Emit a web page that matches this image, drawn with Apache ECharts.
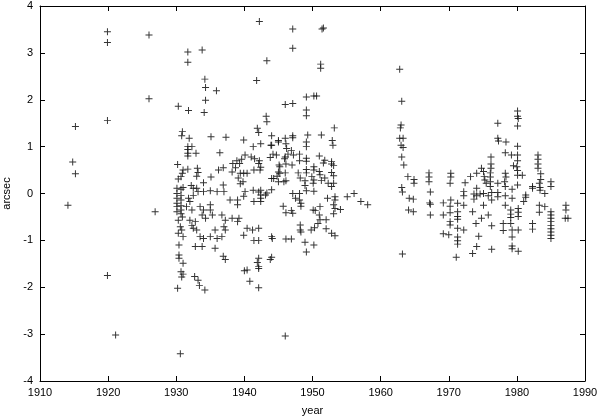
<!DOCTYPE html>
<html>
<head>
<meta charset="utf-8">
<script src="https://cdn.jsdelivr.net/npm/echarts@6/dist/echarts.min.js"></script>
<style>
 html,body{margin:0;padding:0;background:#fff;}
 #main{width:600px;height:418px;}
</style>
</head>
<body>
<div id="main"></div>
<script>
// points [year, arcsec], split by epoch
var early = [[1914.1,-0.25],[1914.8,0.67],[1915.2,0.42],[1915.2,1.43],[1919.9,3.45],[1919.9,3.22],[1919.9,1.56],[1919.9,-1.75],[1921.1,-3.02],[1926.0,3.38],[1926.0,2.02],[1926.9,-0.39]];

var mid = [[1930.3,1.86],[1930.9,1.32],[1930.8,1.23],[1930.2,0.62],[1930.9,0.43],[1930.7,0.36],[1930.3,0.31],[1931.0,0.5],[1931.0,0.13],
 [1930.1,0.11],[1930.1,0.0],[1930.1,-0.1],[1930.1,-0.21],[1930.1,-0.28],[1930.1,-0.39],
 [1930.7,0.09],[1930.7,-0.04],[1930.7,-0.14],[1930.7,-0.26],[1930.7,-0.35],[1930.7,-0.43],[1930.9,-0.5],
 [1930.3,-0.57],[1930.6,-0.71],[1930.8,-0.78],[1930.3,-0.85],[1931.0,-0.92],
 [1930.4,-1.1],[1930.4,-1.31],[1930.4,-1.38],[1931.0,-1.49],[1930.7,-1.67],[1931.0,-1.72],[1930.8,-1.78],[1930.2,-2.02],[1930.6,-3.42],
 [1931.8,1.77],[1931.7,3.02],[1931.7,2.8],[1931.9,1.18],[1931.7,1.0],[1931.7,0.94],[1931.7,0.86],[1931.7,0.8],[1931.7,0.52],[1932.3,1.0],[1932.9,0.86],
 [1932.2,0.17],[1933.1,0.54],[1933.0,0.37],[1933.2,0.45],
 [1931.8,-0.1],[1932.0,-0.17],[1931.5,-0.28],[1932.3,-0.35],[1932.5,0.11],[1932.5,-0.04],[1933.2,0.04],[1933.0,0.11],
 [1932.0,-0.57],[1932.3,-0.68],[1932.8,-0.6],[1932.5,-0.74],[1933.0,-0.78],
 [1933.5,-0.28],[1934.0,-0.35],[1933.8,-0.46],[1934.3,-0.53],[1935.0,-0.35],[1935.0,-0.24],[1935.3,-0.46],
 [1933.5,-0.92],[1934.0,-0.96],[1935.0,-0.92],[1932.8,-1.13],[1933.8,-1.13],
 [1932.7,-1.77],[1933.2,-1.85],[1933.4,-1.96],[1934.2,-2.06],
 [1933.8,3.06],[1934.2,2.44],[1934.3,2.26],[1935.9,2.19],[1934.3,1.99],[1934.1,1.73],[1935.1,1.21],[1937.3,1.2],
 [1934.0,0.23],[1935.1,0.35],[1936.2,0.5],[1936.9,0.55],[1938.3,0.64],[1938.7,0.55],[1938.2,0.46],[1936.4,0.87],
 [1934.0,0.04],[1935.0,0.06],[1936.0,0.04],[1937.0,0.04],[1936.9,0.18],
 [1935.7,-0.78],[1936.0,-0.96],[1935.7,-1.17],
 [1936.7,-0.46],[1937.2,-0.57],[1937.0,-0.71],[1937.2,-0.78],[1936.7,-0.92],
 [1937.9,-0.14],[1939.0,-0.14],[1939.0,-0.24],
 [1938.2,-0.53],[1939.0,-0.6],[1939.2,-0.53],
 [1939.9,-0.89],[1941.2,-0.78],[1940.4,-0.74],
 [1936.9,-1.34],[1937.2,-1.41],
 [1939.9,1.14],[1939.3,0.64],[1939.6,0.73],[1938.9,0.7],[1940.1,0.82],[1941.0,0.78],[1941.5,0.74],[1942.2,0.7],[1942.1,0.64],[1942.4,0.56],[1941.4,0.5],[1942.3,0.5],
 [1939.4,0.43],[1939.9,0.43],[1940.4,0.43],[1939.1,0.33],[1939.8,0.25],[1939.4,0.21],
 [1940.1,0.04],[1939.9,-0.06],[1941.3,0.07],[1942.1,0.03],[1942.4,0.07],[1942.4,-0.03],[1941.4,-0.17],[1942.4,-0.17],[1942.4,-0.1],[1943.1,-0.03],[1943.3,0.01],
 [1941.4,-1.0],[1942.1,-1.0],[1944.1,-0.96],[1942.1,-0.74],
 [1942.1,-1.38],[1942.1,-1.56],[1943.8,-1.41],[1940.4,-1.63],
 [1941.9,-1.47],[1942.1,-1.6],[1940.0,-1.65],[1940.8,-1.87],[1942.1,-2.01],
 [1942.2,3.67],[1943.3,2.83],[1941.8,2.41],[1943.2,1.65],[1943.3,1.53],[1941.9,1.39],[1942.1,1.3],
 [1942.4,1.06],[1941.3,1.0],[1943.9,1.03],[1945.0,1.1],
 [1943.8,0.77],[1944.7,0.82],[1944.3,0.32],[1945.0,0.46],[1945.0,0.25],
 [1944.0,1.23],[1944.0,1.03],[1944.2,0.84],
 [1947.1,3.51],[1951.4,3.51],[1951.6,3.53],[1947.1,3.1],[1951.2,2.76],[1951.2,2.67],[1949.1,2.06],[1950.2,2.08],[1950.6,2.08],[1946.0,1.9],[1947.1,1.92],[1949.1,1.78],[1949.1,1.66],[1953.2,1.4],[1947.1,1.23],[1947.1,1.19],[1949.3,1.25],[1951.3,1.25],[1946.0,1.18],
 [1945.0,1.13],[1946.1,1.06],[1949.1,1.1],[1949.1,1.0],[1952.9,1.13],[1953.0,1.03],
 [1946.2,0.96],[1946.9,0.92],[1946.4,0.84],[1946.0,0.78],[1945.9,0.74],[1947.2,0.82],[1948.1,0.84],[1948.1,0.7],
 [1945.1,0.61],[1945.2,0.57],[1946.1,0.63],[1947.0,0.61],[1949.1,0.75],[1949.1,0.69],[1951.0,0.8],[1951.8,0.71],[1951.6,0.65],[1952.8,0.68],[1952.8,0.63],[1953.1,0.6],[1950.2,0.57],[1950.2,0.5],
 [1944.0,0.32],[1944.8,0.37],[1945.2,0.43],[1946.0,0.44],[1946.1,0.27],[1945.8,0.25],[1947.9,0.44],[1949.1,0.51],[1949.1,0.44],
 [1949.9,0.36],[1950.2,0.29],[1950.1,0.22],[1950.2,0.05],[1951.0,0.47],[1951.1,0.4],[1951.3,0.28],[1951.8,0.33],[1952.3,0.22],
 [1952.8,0.45],[1953.1,0.38],[1953.1,0.22],[1952.8,0.15],[1944.0,0.08],
 [1948.2,0.33],[1948.9,0.27],[1948.9,0.17],[1949.1,0.06],[1947.1,0.0],[1948.1,0.0],[1947.5,-0.1],[1948.1,-0.14],[1948.3,-0.21],[1948.3,-0.27],
 [1952.2,-0.1],[1953.3,-0.07],[1953.3,-0.14],[1953.1,-0.24],[1953.3,-0.32],[1955.1,-0.07],[1956.1,0.0],[1957.1,-0.17],[1958.1,-0.24],[1954.1,-0.34],
 [1945.7,-0.27],[1946.1,-0.41],[1946.9,-0.36],[1947.1,-0.42],[1950.1,-0.35],[1950.4,-0.36],[1951.1,-0.28],[1951.0,-0.46],[1953.1,-0.43],
 [1951.1,-0.56],[1952.0,-0.56],[1950.8,-0.64],[1949.8,-0.78],[1950.3,-0.73],[1952.0,-0.75],
 [1948.2,-0.67],[1948.2,-0.78],[1948.3,-0.82],[1952.8,-0.85],[1953.3,-0.9],[1944.0,-0.92],
 [1946.1,-0.97],[1946.9,-0.97],[1948.9,-1.04],[1950.2,-1.1],[1949.1,-1.25],[1944.0,-1.36],[1946.0,-3.04]];

var late = [[1962.8,2.65],[1963.1,1.97],[1963.0,1.46],[1962.9,1.4],[1962.8,1.18],[1963.3,1.18],[1963.0,1.03],[1963.3,0.98],[1963.1,0.78],[1963.4,0.61],[1964.0,0.36],[1964.9,0.3],[1964.9,0.22],[1963.1,0.13],[1963.2,0.03],[1964.2,-0.1],[1964.8,-0.12],[1964.1,-0.35],[1964.8,-0.39],[1963.2,-1.29],
 [1967.1,0.44],[1967.1,0.35],[1967.1,0.25],[1967.3,0.03],[1967.2,-0.2],[1967.3,-0.23],[1967.3,-0.46],
 [1969.2,-0.2],[1969.2,-0.46],[1969.2,-0.86],
 [1970.3,0.43],[1970.3,0.35],[1970.2,0.22],[1970.3,-0.14],[1970.2,-0.27],[1970.2,-0.41],[1970.2,-0.6],[1970.2,-0.67],[1970.0,-0.88],
 [1971.3,-0.21],[1971.3,-0.39],[1971.3,-0.49],[1971.3,-0.55],[1971.3,-0.74],[1971.3,-0.93],[1971.3,-1.01],[1971.3,-1.08],[1971.1,-1.36],
 [1972.4,0.23],[1972.2,0.04],[1972.2,-0.05],[1972.2,-0.25],[1972.2,-0.78],[1973.2,0.36],[1973.5,-0.39],[1973.5,-1.28],[1973.7,-0.01],[1973.7,-0.12],
 [1974.1,0.43],[1974.1,0.11],[1974.1,-0.05],[1974.0,-0.64],[1974.4,-0.91],[1974.1,-1.13],[1974.6,-0.01],[1974.8,0.54],
 [1975.1,0.47],[1975.2,0.36],[1975.3,0.29],[1975.5,0.22],[1975.1,0.0],[1975.1,-0.25],[1974.8,-0.53],[1975.8,-0.05],[1975.8,-0.46],
 [1976.2,0.78],[1976.2,0.63],[1976.2,0.54],[1976.1,0.44],[1976.1,0.35],[1976.1,0.25],[1976.1,0.15],[1976.3,0.02],[1976.3,-0.14],[1976.3,-0.69],[1976.3,-1.19],
 [1977.2,1.5],[1977.2,1.18],[1977.3,1.12],[1977.2,0.22],[1977.2,0.02],[1977.2,-0.07],
 [1978.4,1.1],[1978.3,0.87],[1978.3,0.43],[1978.4,0.35],[1978.2,0.25],[1978.3,0.15],[1978.3,-0.05],[1978.3,-0.25],[1978.0,-0.64],[1978.0,-0.79],
 [1979.2,0.82],[1979.5,0.59],[1979.3,0.09],[1979.3,-0.1],[1979.1,-0.35],[1979.1,-0.44],[1979.1,-0.51],[1979.1,-0.64],[1979.3,-0.78],[1979.3,-0.93],[1979.3,-1.12],[1979.3,-1.18],
 [1980.1,1.76],[1980.1,1.65],[1980.2,1.6],[1980.1,1.44],[1980.1,1.01],[1980.1,0.82],[1980.1,0.7],[1980.0,0.57],[1980.1,0.49],[1980.1,0.39],[1980.8,0.39],[1980.1,0.18],[1980.2,-0.32],[1980.2,-0.4],[1980.2,-0.49],[1980.2,-0.78],[1980.2,-1.23],
 [1981.3,-0.03],[1981.3,-0.08],[1981.0,-0.17],[1982.3,0.15],[1982.3,0.11],[1982.3,-0.64],[1982.3,-0.76],
 [1983.1,0.82],[1983.1,0.73],[1983.1,0.63],[1983.1,0.54],[1983.5,0.42],[1983.5,0.3],[1983.4,0.13],[1983.3,0.22],[1983.4,0.07],[1983.3,-0.25],[1983.3,-0.4],[1984.1,0.0],[1984.1,-0.28],
 [1985.0,0.25],[1985.0,0.15],[1985.0,-0.39],[1985.0,-0.46],[1985.0,-0.53],[1985.0,-0.6],[1985.0,-0.68],[1985.0,-0.75],[1985.0,-0.82],[1985.0,-0.89],[1985.0,-0.96],
 [1987.2,-0.25],[1987.2,-0.35],[1987.1,-0.53],[1987.5,-0.53]];

var xTicks = [1910,1920,1930,1940,1950,1960,1970,1980,1990];
var yTicks = [-4,-3,-2,-1,0,1,2,3,4];

// gnuplot style "+" marker
var cross = 'path://M-0.14,-1H0.14V-0.14H1V0.14H0.14V1H-0.14V0.14H-1V-0.14H-0.14Z';
var fnt = 'Liberation Sans, Arial, sans-serif';

var tickStyle = {show:true, inside:true, length:5, lineStyle:{color:'#000', width:1}};
var lineStyle = {show:true, onZero:false, lineStyle:{color:'#000', width:1}};

function pts(arr){
  return {
    type:'scatter', data:arr, symbol:cross, symbolSize:7,
    itemStyle:{color:'#111', opacity:0.85}, silent:true, animation:false
  };
}

var myChart = echarts.init(document.getElementById('main'));
myChart.setOption({
  animation:false,
  grid:{left:40, right:15, top:6, bottom:37, containLabel:false, outerBoundsMode:'none'},
  xAxis:[{
    type:'value', min:xTicks[0], max:xTicks[xTicks.length-1], interval:10,
    axisLine:lineStyle, axisTick:tickStyle, splitLine:{show:false},
    axisLabel:{color:'#000', fontFamily:fnt, fontSize:11, margin:6, formatter:function(v){return String(v);}},
    name:'year', nameLocation:'middle', nameGap:24,
    nameTextStyle:{color:'#000', fontFamily:fnt, fontSize:11}
  },{
    type:'value', position:'top', min:xTicks[0], max:xTicks[xTicks.length-1], interval:10,
    axisLine:lineStyle, axisTick:tickStyle, splitLine:{show:false}, axisLabel:{show:false}
  }],
  yAxis:[{
    type:'value', min:yTicks[0], max:yTicks[yTicks.length-1], interval:1,
    axisLine:lineStyle, axisTick:tickStyle, splitLine:{show:false},
    axisLabel:{color:'#000', fontFamily:fnt, fontSize:11, margin:7},
    name:'arcsec', nameLocation:'middle', nameGap:28, nameRotate:90,
    nameTextStyle:{color:'#000', fontFamily:fnt, fontSize:11}
  },{
    type:'value', position:'right', min:yTicks[0], max:yTicks[yTicks.length-1], interval:1,
    axisLine:lineStyle, axisTick:tickStyle, splitLine:{show:false}, axisLabel:{show:false}
  }],
  series:[pts(early), pts(mid), pts(late)]
});
</script>
</body>
</html>
